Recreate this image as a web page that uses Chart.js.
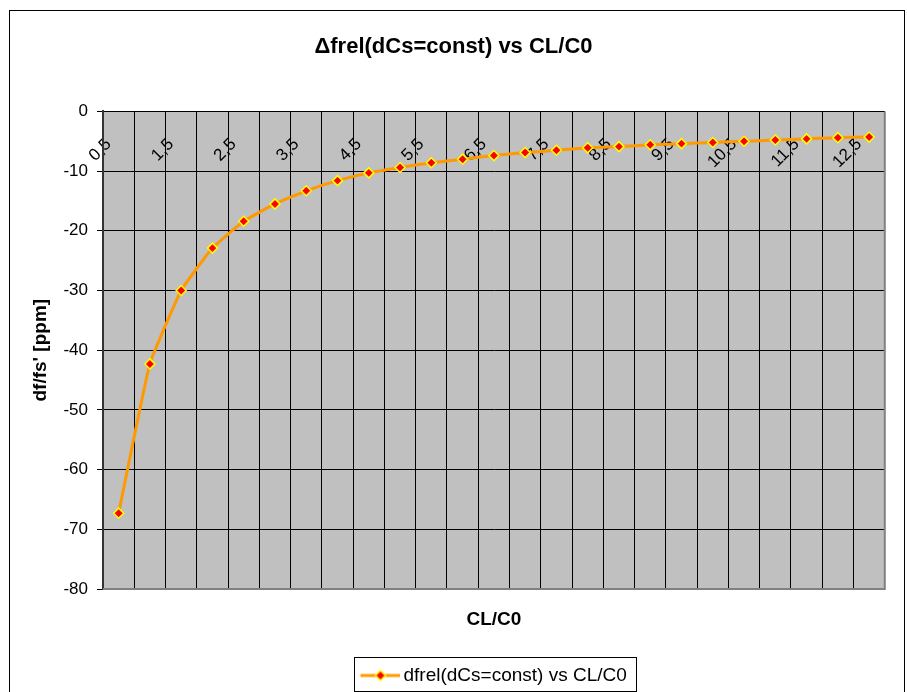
<!DOCTYPE html>
<html>
<head>
<meta charset="utf-8">
<script src="https://cdn.jsdelivr.net/npm/chart.js@4/dist/chart.umd.min.js"></script>
<style>
  html, body { margin: 0; padding: 0; background: #fff; overflow: hidden; }
  #wrap { position: relative; width: 907px; height: 692px; }
  #wrap canvas { position: absolute; left: 0; top: 0; }
  #frame { position: absolute; left: 9px; top: 10px; width: 894px; height: 700px; border: 1px solid #000; pointer-events: none; }
</style>
</head>
<body>
<div id="wrap">
  <canvas id="chart" width="907" height="692"></canvas>
  <div id="frame"></div>
</div>
<script>
// CL/C0 ratios (category labels use a decimal comma)
const categories = ['0,5', '1', '1,5', '2', '2,5', '3', '3,5', '4', '4,5', '5', '5,5', '6', '6,5',
                    '7', '7,5', '8', '8,5', '9', '9,5', '10', '10,5', '11', '11,5', '12', '12,5'];

// relative frequency shift df/fs' in ppm
const dfrel = [-67.3, -42.3, -30.0, -22.9, -18.4, -15.5, -13.3, -11.6, -10.3, -9.4, -8.6, -8.0, -7.4,
               -6.9, -6.5, -6.1, -5.9, -5.6, -5.4, -5.2, -5.0, -4.8, -4.6, -4.4, -4.3];

// value axis range
const yMin = -80;
const yMax = 0;
const yStep = 10;

const seriesName = 'dfrel(dCs=const) vs CL/C0';

Chart.defaults.font.family = "'Liberation Sans', Arial, sans-serif";
Chart.defaults.color = '#000';

// legend symbol: line with a diamond marker (6px transparent lead-in on the left)
const marker = document.createElement('canvas');
marker.width = 46;
marker.height = 14;
(function () {
  const g = marker.getContext('2d');
  g.strokeStyle = '#FF9900';
  g.lineWidth = 3;
  g.beginPath(); g.moveTo(6, 7); g.lineTo(46, 7); g.stroke();
  g.beginPath();
  g.moveTo(26, 2); g.lineTo(31, 7); g.lineTo(26, 12); g.lineTo(21, 7); g.closePath();
  g.fillStyle = '#FF0000'; g.fill();
  g.strokeStyle = '#FFFF00'; g.lineWidth = 1.5; g.stroke();
})();

// grey plot background and its frame
const plotFrame = {
  id: 'plotFrame',
  beforeDraw(chart) {
    const { ctx, chartArea: a } = chart;
    ctx.save();
    ctx.fillStyle = '#C0C0C0';
    ctx.fillRect(a.left, a.top, a.right - a.left, a.bottom - a.top);
    ctx.restore();
  },
  beforeDatasetsDraw(chart) {
    const { ctx, chartArea: a } = chart;
    ctx.save();
    ctx.strokeStyle = '#808080';
    ctx.lineWidth = 2;
    ctx.beginPath();
    ctx.moveTo(a.right, a.top);
    ctx.lineTo(a.right, a.bottom);
    ctx.lineTo(a.left, a.bottom);
    ctx.stroke();
    ctx.restore();
  }
};

// box around the legend entry
const legendFrame = {
  id: 'legendFrame',
  afterDraw(chart) {
    const hb = chart.legend && chart.legend.legendHitBoxes && chart.legend.legendHitBoxes[0];
    if (!hb) return;
    const { ctx } = chart;
    ctx.save();
    ctx.strokeStyle = '#000';
    ctx.lineWidth = 1;
    const x0 = Math.round(hb.left - 7) + 0.5;
    const y0 = Math.round(hb.top - 9) + 0.5;
    const x1 = Math.round(hb.left + hb.width + 9) + 0.5;
    ctx.strokeRect(x0, y0, x1 - x0, 34);
    ctx.restore();
  }
};

new Chart(document.getElementById('chart'), {
  type: 'line',
  data: {
    labels: categories,
    datasets: [{
      label: seriesName,
      data: dfrel,
      borderColor: '#FF9900',
      borderWidth: 3,
      tension: 0.12,
      fill: false,
      pointStyle: 'rectRot',
      pointRadius: 5,
      pointBackgroundColor: '#FF0000',
      pointBorderColor: '#FFFF00',
      pointBorderWidth: 1.5
    }]
  },
  options: {
    responsive: false,
    animation: false,
    events: [],
    layout: { padding: { top: 10, left: 18, right: 18, bottom: 1 } },
    scales: {
      x: {
        type: 'category',
        position: { y: 0 },
        offset: true,
        grid: { offset: true, color: '#000', lineWidth: 1, drawTicks: false },
        border: { color: '#000', width: 1 },
        ticks: {
          autoSkip: false,
          minRotation: 45,
          maxRotation: 45,
          labelOffset: -10,
          padding: 23,
          font: { size: 17 },
          color: '#000',
          callback(value, index) {
            return index % 2 === 0 ? this.getLabelForValue(value) : '';
          }
        }
      },
      y: {
        min: yMin,
        max: yMax,
        ticks: { stepSize: yStep, font: { size: 17 }, color: '#000', padding: 9 },
        grid: { color: '#000', lineWidth: 1, tickLength: 6, drawTicks: true },
        border: { color: '#333', width: 2 },
        title: {
          display: true,
          text: "df/fs' [ppm]",
          font: { size: 19, weight: 'bold' },
          color: '#000',
          padding: { top: 11, bottom: 0 }
        },
        afterFit(scale) { scale.width = 85; }
      }
    },
    plugins: {
      title: {
        display: true,
        text: 'Δfrel(dCs=const) vs CL/C0',
        font: { size: 22, weight: 'bold' },
        color: '#000',
        padding: { top: 24, bottom: 51 }
      },
      subtitle: {
        display: true,
        position: 'bottom',
        fullSize: false,
        weight: 500,
        text: 'CL/C0',
        font: { size: 19, weight: 'bold' },
        color: '#000',
        padding: { top: 19.6, bottom: 24.6 }
      },
      legend: {
        position: 'bottom',
        fullSize: false,
        maxHeight: 35,
        labels: {
          usePointStyle: true,
          pointStyle: marker,
          pointStyleWidth: 33,
          font: { size: 19 },
          color: '#000',
          padding: 10
        }
      },
      tooltip: { enabled: false }
    }
  },
  plugins: [plotFrame, legendFrame]
});
</script>
</body>
</html>
